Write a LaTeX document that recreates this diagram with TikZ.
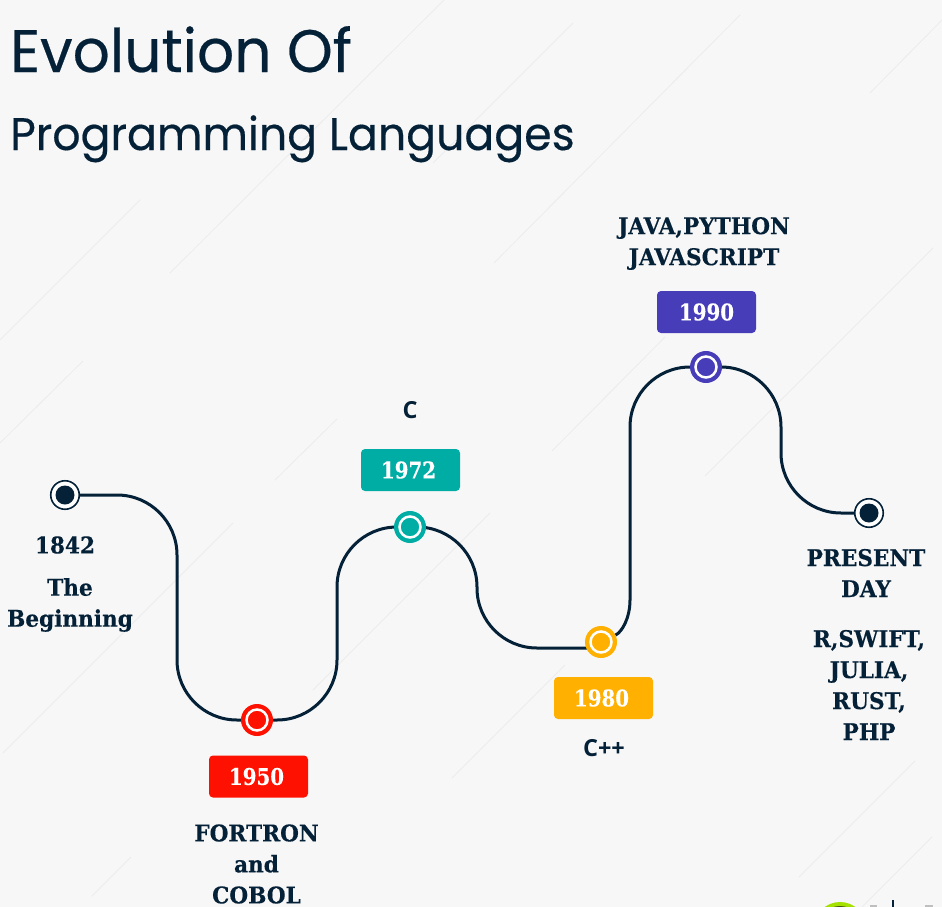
\documentclass[tikz,border=0pt]{standalone}
\usepackage{fontspec}
\usetikzlibrary{backgrounds}
\setmainfont{DejaVu Serif}
\newfontfamily\titlefont{Poppins}[FakeStretch=0.97,FakeBold=0.4]
\newfontfamily\slabfont{DejaVu Serif}[FakeStretch=0.94,BoldFeatures={FakeBold=0.25}]
\newfontfamily\yearfont{DejaVu Serif}[FakeStretch=0.86,BoldFeatures={FakeBold=0.25}]
\newfontfamily\plainfont{Open Sans}
\definecolor{navy}{HTML}{042137}
\definecolor{bgc}{HTML}{F7F7F7}
\definecolor{faint}{HTML}{ECECEC}
\definecolor{cred}{HTML}{FF1100}
\definecolor{cteal}{HTML}{00ADA5}
\definecolor{cyel}{HTML}{FFB000}
\definecolor{cpur}{HTML}{483DB8}
\definecolor{logog}{HTML}{A4E000}
\definecolor{logod}{HTML}{4A5A10}
\tikzset{
  titlea/.style={anchor=base west,inner sep=0pt,text=navy,font=\titlefont\fontsize{60}{60}\selectfont},
  titleb/.style={anchor=base west,inner sep=0pt,text=navy,font=\titlefont\fontsize{45.6}{46}\selectfont},
  lab/.style={align=center,inner sep=0pt,text=navy,font=\slabfont\bfseries\fontsize{23}{31}\selectfont},
  labsans/.style={align=center,inner sep=0pt,text=navy,font=\plainfont\bfseries\fontsize{23.5}{31}\selectfont},
  yearbox/.style={rounded corners=4pt,fill=#1,minimum width=99pt,minimum height=42pt,inner sep=0pt,text=white,font=\yearfont\bfseries\fontsize{23}{23}\selectfont},
  dotc/.style={circle,draw=#1,fill=#1,line width=3.5pt,minimum size=28.5pt,inner sep=0pt,path picture={\draw[white,line width=2.5pt] (path picture bounding box.center) circle (10.5pt);}},
  dotn/.style={circle,draw=navy,fill=white,line width=1.6pt,minimum size=28.5pt,inner sep=0pt,path picture={\fill[navy] (path picture bounding box.center) circle (9.5pt);}},
  route/.style={draw=navy,line width=3pt,rounded corners=60pt},
  bgline/.style={draw=faint,line width=0.8pt}
}
\begin{document}
\begin{tikzpicture}[x=1pt,y=-1pt]
\path[use as bounding box] (0,0) rectangle (942,907);
\node[titlea] (t1) at (10,72) {Evolution Of};
\node[titleb] (t2) at (10,150) {Programming Languages};
\node[dotn] (n0) at (65,495) {};
\node[dotc=cred] (n1) at (257,720) {};
\node[dotc=cteal] (n2) at (410,527) {};
\node[dotc=cyel] (n3) at (601,642) {};
\node[dotc=cpur] (n4) at (706,367) {};
\node[dotn] (n5) at (869,513) {};
\coordinate (j3) at (601,648);
\coordinate (j3b) at (630,600);
\begin{scope}[on background layer]
  \fill[bgc] (0,0) rectangle (942,907);
  \foreach \a/\b/\c/\d in {444/0/170/273,573/23/433/163,740/15/494/263,942/20/870/93,140/200/0/340,83/361/0/443,233/523/3/753,
    337/419/275/480,665/337/552/451,933/248/705/476,490/513/313/690,565/665/452/778,915/761/799/877,932/837/862/907,131/857/92/896}
    \draw[bgline] (\a,\b) -- (\c,\d);
  \draw[route] (n0) -- (177,495) -- (177,720) -- (n1);
  \draw[route] (n1) -- (337,720) -- (337,527) -- (n2);
  \draw[route] (n2) -- (477,527) -- (477,648) -- (j3);
  \draw[draw=navy,line width=3pt] (n3) .. controls (622,632) and (630,618) .. (j3b);
  \draw[route] (j3b) -- (630,367) -- (n4);
  \draw[route] (n4) -- (781,367) -- (781,513) -- (n5);
  \fill[logog] (840,928) circle (26pt);
  \fill[logod] (840,928) circle (22pt);
  \fill[navy] (892,900) rectangle (894,907);
  \fill[gray!50] (870,905) rectangle (877,907);
  \fill[gray!50] (925,905) rectangle (933,907);
\end{scope}
\node[yearbox=cred] (y1) at (258.5,776.5) {1950\kern4pt};
\node[yearbox=cteal] (y2) at (410.5,470) {1972\kern4pt};
\node[yearbox=cyel] (y3) at (603.5,698) {1980\kern4pt};
\node[yearbox=cpur] (y4) at (706.5,312) {1990};
\node[lab] (l0a) at (65,545) {1842};
\node[lab] (l0b) at (70,605) {The\\Beginning};
\node[lab] (l1) at (256.5,864) {FORTRON\\and\\COBOL};
\node[labsans] (l2) at (410,410) {C};
\node[labsans] (l3) at (604,748) {C++};
\node[lab] (l4) at (704,243.5) {JAVA,PYTHON\\JAVASCRIPT};
\node[lab] (l5a) at (866,573) {PRESENT\\DAY};
\node[lab] (l5b) at (869,685) {R,SWIFT,\\JULIA,\\RUST,\\PHP};
\end{tikzpicture}
\end{document}
